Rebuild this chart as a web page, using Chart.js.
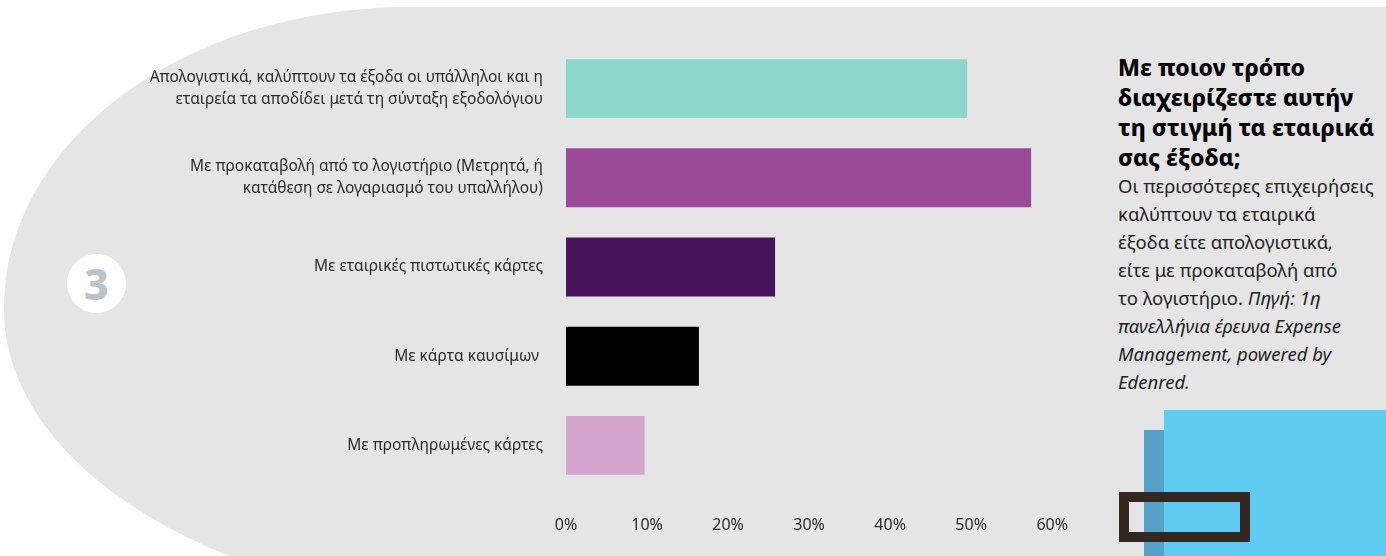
<!DOCTYPE html>
<html>
<head>
<meta charset="utf-8">
<script src="https://cdn.jsdelivr.net/npm/chart.js@4.4.1/dist/chart.umd.min.js"></script>
<style>
  html, body { margin: 0; padding: 0; background: #ffffff; }
  body { width: 1386px; height: 556px; position: relative; overflow: hidden; font-family: "Noto Sans", sans-serif; }
  #bg {
    position: absolute; left: 4px; top: 7px; width: 1600px; height: 603px;
    background: #e5e5e5;
    border-radius: 405px 0 0 528px / 300px 0 0 300px;
  }
  #badge {
    position: absolute; left: 67px; top: 254px; width: 59px; height: 59px;
    border-radius: 50%; background: #ffffff;
    color: #b9c4c7; font: 800 43px "Noto Sans", sans-serif;
    line-height: 59px; text-align: center;
  }
  #wrap { position: absolute; left: 0; top: 0; width: 1094px; height: 556px; }
  #side { position: absolute; left: 1118px; top: 52px; width: 268px; color: #111; white-space: nowrap; }
  #side h2 { margin: 0; font: 800 23px/30px "Noto Sans", sans-serif; color: #000; }
  #side p { margin: 0; font: 400 18.5px/28px "Noto Sans", sans-serif; color: #222; }
  .blue { position: absolute; left: 1164px; top: 410px; width: 260px; height: 200px; background: #5fcbf1; border-top-right-radius: 22px; }
  .blue2 { position: absolute; left: 1144px; top: 430px; width: 20px; height: 200px; background: #57a1c8; }
  .frame { position: absolute; left: 1119px; top: 492px; width: 111px; height: 30px; border: 10px solid #32261e; }
</style>
</head>
<body>
<div id="bg"></div>
<div id="badge">3</div>
<div id="wrap"><canvas id="expenseChart"></canvas></div>
<div id="side">
  <h2>Με ποιον τρόπο<br>διαχειρίζεστε αυτήν<br>τη στιγμή τα εταιρικά<br>σας έξοδα;</h2>
  <p>Οι περισσότερες επιχειρήσεις<br>καλύπτουν τα εταιρικά<br>έξοδα είτε απολογιστικά,<br>είτε με προκαταβολή από<br>το λογιστήριο. <i>Πηγή: 1η<br>πανελλήνια έρευνα Expense<br>Management, powered by<br>Edenred.</i></p>
</div>
<div class="blue"></div>
<div class="blue2"></div>
<div class="frame"></div>

<script>
const categories = [
    ["Απολογιστικά, καλύπτουν τα έξοδα οι υπάλληλοι και η", "εταιρεία τα αποδίδει μετά τη σύνταξη εξοδολόγιου"],
    ["Με προκαταβολή από το λογιστήριο (Μετρητά, ή", "κατάθεση σε λογαριασμό του υπαλλήλου)"],
    "Με εταιρικές πιστωτικές κάρτες",
    "Με κάρτα καυσίμων ",
    "Με προπληρωμένες κάρτες"
];
const values = [49.5, 57.4, 25.8, 16.4, 9.7];
const xTicks = [0, 10, 20, 30, 40, 50, 60];

const barColors = ["#8cd7cb", "#9b4a97", "#4a145c", "#000000", "#d4a6cf"];

const ctx = document.getElementById("expenseChart");

new Chart(ctx, {

    type: "bar",

    data: {
        labels: categories,
        datasets: [{
            data: values,
            backgroundColor: barColors,
            borderWidth: 0,
            categoryPercentage: 1,
            barPercentage: 0.66
        }]
    },

    options: {
        indexAxis: "y",
        responsive: true,
        maintainAspectRatio: false,
        animation: false,
        layout: {
            padding: { top: 44, right: 0, bottom: 0, left: 0 }
        },
        plugins: {
            legend: { display: false },
            tooltip: { enabled: false }
        },
        scales: {
            x: {
                min: xTicks[0],
                max: xTicks[xTicks.length - 1],
                afterFit: function(scale) { scale.height = 66; },
                afterBuildTicks: function(scale) {
                    scale.ticks = xTicks.map(v => ({ value: v }));
                },
                grid: { display: false, drawTicks: false },
                border: { display: false },
                ticks: {
                    padding: 26,
                    color: "#2b2b2b",
                    font: { family: "Noto Sans", size: 16 },
                    callback: function(value) { return value + "%"; }
                }
            },
            y: {
                afterFit: function(scale) { scale.width = 566; },
                grid: { display: false, drawTicks: false },
                border: { display: false },
                ticks: {
                    padding: 23,
                    color: "#2b2b2b",
                    font: { family: "Noto Sans", size: 15.5, lineHeight: "22px" }
                }
            }
        }
    }

});
</script>
</body>
</html>
